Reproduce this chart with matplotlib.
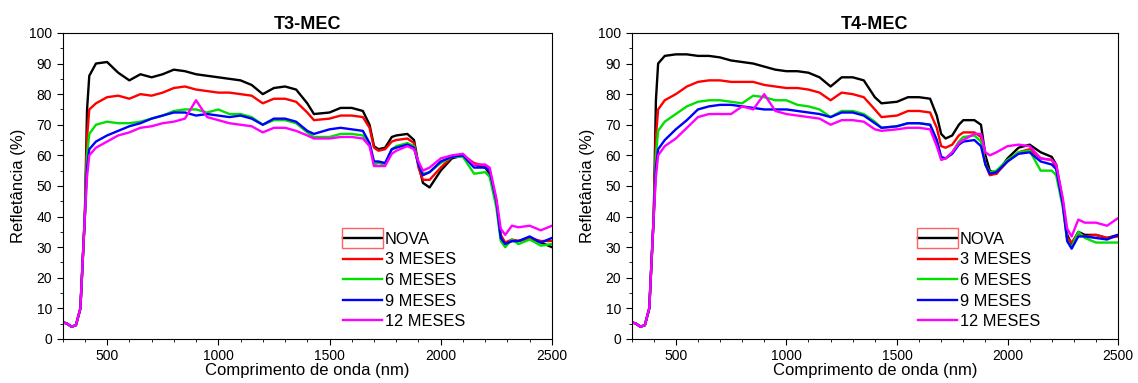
import numpy as np
import matplotlib.pyplot as plt
from matplotlib.patches import Rectangle
from matplotlib.ticker import MultipleLocator

plt.rcParams['font.family'] = ['Liberation Sans', 'DejaVu Sans']

# comprimento de onda (nm) - grade comum as duas amostras
wl = [300, 320, 340, 360, 380, 400, 410, 420, 450, 500, 550, 600, 650, 700,
      750, 800, 850, 900, 950, 1000, 1050, 1100, 1150, 1200, 1250, 1300, 1350,
      1400, 1430, 1500, 1550, 1600, 1650, 1680, 1700, 1720, 1750, 1780, 1800,
      1850, 1880, 1900, 1920, 1950, 2000, 2050, 2100, 2150, 2200, 2220, 2250,
      2270, 2290, 2320, 2350, 2400, 2450, 2500]

labels = ['NOVA', '3 MESES', '6 MESES', '9 MESES', '12 MESES']
colors = ['#000000', '#ff0000', '#00e000', '#0000ff', '#ff00ff']

# T3-MEC
t3_nova = [5.5, 5, 4, 4.5, 10, 40, 75, 86, 90, 90.5, 87, 84.5, 86.5, 85.5,
           86.5, 88, 87.5, 86.5, 86, 85.5, 85, 84.5, 83, 80, 82, 82.5, 81.5,
           77, 73.5, 74, 75.5, 75.5, 74.5, 70, 63, 62, 62.5, 66, 66.5,
           67, 65, 57, 51, 49.5, 55, 59, 60, 57, 56, 54, 45,
           33, 31, 32, 32, 33, 31.5, 30]
t3_3m = [5.5, 5, 4, 4.5, 10, 40, 66, 75, 77, 79, 79.5, 78.5, 80, 79.5,
         80.5, 82, 82.5, 81.5, 81, 80.5, 80.5, 80, 79.5, 77, 78.5, 78.5, 77.5,
         74, 71.5, 72, 73, 73, 72.5, 69, 62.5, 61.5, 62, 64.5, 65,
         65.5, 64, 56, 52, 52, 56, 59.5, 60, 57.5, 56.5, 55, 45,
         34, 31.5, 32.5, 32, 33, 32, 32]
t3_6m = [5.5, 5, 4, 4.5, 10, 40, 60, 67, 70, 71, 70.5, 70.5, 71, 72,
         73, 74.5, 75, 75, 74, 75, 73.5, 73.5, 72.5, 70, 71.5, 71.5, 70.5,
         67.5, 66, 66, 67, 67, 66.5, 64, 57, 57.5, 57, 62, 63,
         64, 63, 57, 54, 54.5, 57.5, 59.5, 59.5, 54, 54.5, 53, 43,
         32, 30, 32.5, 31, 32.5, 30.5, 31]
t3_9m = [5.5, 5, 4, 4.5, 10, 40, 56, 62, 64.5, 66.5, 68, 69.5, 70.5, 72,
         73, 74, 74, 73, 73.5, 73, 72.5, 73, 72, 70, 72, 72, 71,
         68, 67, 68.5, 69, 68.5, 68, 64, 58, 58, 57.5, 62, 62.5,
         63.5, 62.5, 57, 53.5, 54.5, 58, 59.5, 60, 56, 56, 55, 45,
         33, 31, 32, 32, 33.5, 31.5, 33]
t3_12m = [5.5, 5, 4, 4.5, 10, 40, 53, 60, 62.5, 64.5, 66.5, 67.5, 69, 69.5,
          70.5, 71, 72, 78, 72.5, 71.5, 70.5, 70, 69.5, 67.5, 69, 69, 68,
          66.5, 65.5, 65.5, 66, 66, 65.5, 63, 56.5, 56.5, 56.5, 60.5, 61.5,
          63, 62, 58, 55, 56, 59, 60, 60.5, 57, 57, 56, 46,
          36, 34, 37, 36.5, 37, 35.5, 37]

# T4-MEC
t4_nova = [5.5, 5, 4, 4.5, 10, 40, 78, 90, 92.5, 93, 93, 92.5, 92.5, 92,
           91, 90.5, 90, 89, 88, 87.5, 87.5, 87, 85.5, 82.5, 85.5, 85.5, 84.5,
           79, 77, 77.5, 79, 79, 78.5, 73, 67, 65.5, 66.5, 70, 71.5,
           71.5, 70, 60, 55, 54, 59, 62.5, 63.5, 61, 59.5, 57, 45,
           34, 31, 35, 34, 34, 33, 34]
t4_3m = [5.5, 5, 4, 4.5, 10, 40, 66, 75, 78, 80, 82.5, 84, 84.5, 84.5,
         84, 84, 84, 83, 82.5, 82, 82, 81.5, 80.5, 78, 80.5, 80, 79,
         75, 72.5, 73, 74.5, 74.5, 74, 69, 63, 62.5, 63.5, 66.5, 67.5,
         67.5, 66, 57, 53.5, 54, 58, 61, 62, 59, 58.5, 56, 44,
         33, 31.5, 34.5, 33.5, 34, 33, 33.5]
t4_6m = [5.5, 5, 4, 4.5, 10, 40, 60, 68, 71, 73.5, 76, 77.5, 78, 78,
         77.5, 77, 79.5, 79, 78, 78, 76.5, 76, 75, 72.5, 74.5, 74.5, 73.5,
         71, 69, 69.5, 70.5, 70.5, 70, 65, 59, 59, 61, 64.5, 66,
         66.5, 64.5, 57, 54.5, 55, 58.5, 61, 61.5, 55, 55, 53.5, 43,
         32, 30, 35, 33, 31.5, 31.5, 31.5]
t4_9m = [5.5, 5, 4, 4.5, 10, 40, 56, 62, 65, 68.5, 71.5, 75, 76, 76.5,
         76.5, 76, 75.5, 75, 75, 75, 74.5, 74, 73.5, 72.5, 74, 74, 73,
         70.5, 69, 69.5, 70.5, 70.5, 70, 65, 59.5, 59, 60.5, 63.5, 64.5,
         65, 63, 57, 54, 54.5, 58, 60.5, 61, 58, 57, 55.5, 44,
         32, 29.5, 33.5, 33.5, 33, 32.5, 34]
t4_12m = [5.5, 5, 4, 4.5, 10, 40, 53, 60, 63, 65.5, 69, 72.5, 73.5, 73.5,
          73.5, 76, 75, 80, 74.5, 73.5, 73, 72.5, 72, 70, 71.5, 71.5, 71,
          68.5, 68, 68.5, 69, 69, 68.5, 63, 58.5, 59, 61, 64, 65,
          67, 67, 61, 60, 61, 63, 63.5, 63, 59, 58.5, 57, 46,
          36, 33.5, 39, 38, 38, 37, 39.5]

panels = [
    ('T3-MEC', [t3_nova, t3_3m, t3_6m, t3_9m, t3_12m], 0.573),
    ('T4-MEC', [t4_nova, t4_3m, t4_6m, t4_9m, t4_12m], 0.589),
]

fig = plt.figure(figsize=(11.38, 3.83), dpi=100)
boxes = [[0.055, 0.115, 0.430, 0.799], [0.555, 0.115, 0.4275, 0.799]]

legends = []
for (title, series, legx), box in zip(panels, boxes):
    ax = fig.add_axes(box)
    for y, lab, c in zip(series, labels, colors):
        ax.plot(wl, y, color=c, lw=1.7, label=lab)
    ax.set_xlim(300, 2500)
    ax.set_ylim(0, 100)
    ax.xaxis.set_major_locator(MultipleLocator(500))
    ax.xaxis.set_minor_locator(MultipleLocator(100))
    ax.yaxis.set_major_locator(MultipleLocator(10))
    ax.yaxis.set_minor_locator(MultipleLocator(5))
    ax.tick_params(which='both', direction='out', labelsize=10, top=False, right=False)
    ax.tick_params(which='major', length=4)
    ax.tick_params(which='minor', length=2.5)
    ax.set_title(title, fontsize=13, fontweight='bold', pad=3)
    ax.set_xlabel('Comprimento de onda (nm)', fontsize=12, labelpad=0)
    ax.set_ylabel('Refletância (%)', fontsize=12, labelpad=2)
    leg = ax.legend(loc='upper left', bbox_to_anchor=(legx, 0.35), frameon=False,
                    fontsize=11.8, handlelength=2.4, handletextpad=0.15,
                    labelspacing=0.34, borderaxespad=0, borderpad=0)
    legends.append(leg)

# caixa vermelha em volta da linha NOVA, como na figura original
fig.canvas.draw()
for leg in legends:
    bb = leg.legend_handles[0].get_window_extent()
    fig.add_artist(Rectangle((bb.x0 - 1, bb.y0 - 10), bb.width + 2, 20,
                             transform=None, fill=False,
                             edgecolor='#ff6060', lw=1))

plt.savefig('out.png', dpi=100)
